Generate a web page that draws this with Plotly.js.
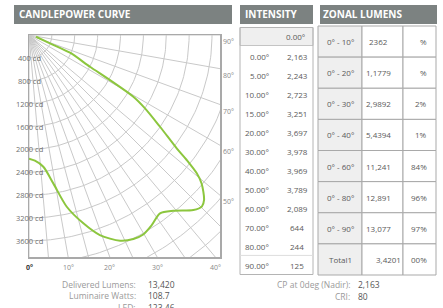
<!DOCTYPE html>
<html><head><meta charset="utf-8">
<script src="https://cdn.plot.ly/plotly-3.0.1.min.js"></script>
<style>html,body{margin:0;padding:0;background:#fff;overflow:hidden}#chart{width:443px;height:308px}</style>
</head><body><div id="chart"></div>
<script>
// ---------- DATA ----------
const curveAngleDeg = [0,2.7,6.2,9.3,12.4,16.1,19.5,23.9,27.1,29.8,32.9,36.3,39.4,43.2,45.2,46.7,49.3,50.5,51.6,52.5,55,57.7,59.4,60.9,62.5,66.6,68.4,76];
const curveCandela  = [2163,2201,2317,2629,3075,3428,3712,3934,4007,4019,3956,3870,3977,4198,4259,4206,3981,3802,3519,3256,2797,2400,2120,1621,1202,781,395,126];
const radialTicksCd = [400,800,1200,1600,2000,2400,2800,3200,3600];
const gridArcsCd = [400,800,1200,1600,2000,2400,2800,3200,3600,4000,4400,4800,5200];
const gridAnglesDeg = [0,5,10,15,20,25,30,35,40,45,50,60,70,80,90];
const bottomAngleTicks = [0,10,20,30,40];
const rightAngleTicks = [50,60,70,80,90];

const intensityHeader = '0.00°';
const intensityAngles = ['0.00°','5.00°','10.00°','15.00°','20.00°','30.00°','40.00°','50.00°','60.00°','70.00°','80.00°','90.00°'];
const intensityValues = ['2,163','2,243','2,723','3,251','3,697','3,978','3,969','3,789','2,089','644','244','125'];

const zonalRanges  = ['0° - 10°','0° - 20°','0° - 30°','0° - 40°','0° - 60°','0° - 80°','0° - 90°','Total1'];
const zonalLumens  = ['2362','1,1779','2,9892','5,4394','11,241','12,891','13,077','3,4201'];
const zonalPercent = ['%','%','2%','1%','84%','96%','97%','00%'];

const summaryLeftLabels  = ['Delivered Lumens:','Luminaire Watts:','LED:'];
const summaryLeftValues  = ['13,420','108.7','123.46'];
const summaryRightLabels = ['CP at 0deg (Nadir):','CRI:'];
const summaryRightValues = ['2,163','80'];

const titles = {curve:'CANDLEPOWER CURVE', intensity:'INTENSITY', zonal:'ZONAL LUMENS'};

// ---------- STYLE / GEOMETRY ----------
const W = 443, H = 308;
const FONT = 'Open Sans, Lato, sans-serif';
const HEADER_FILL = '#7c8281';
const GRID = '#c9c9c9';
const TXT = '#5a5a5a';
const plotL = 29, plotR = 220, plotT = 35, plotB = 257;
const pxPerCd = 22.875 / 400;
const xMax = (plotR - plotL) / pxPerCd;
const yMax = (plotB - plotT) / pxPerCd;
const rad = d => d * Math.PI / 180;
const px = x => x / W;
const py = y => 1 - y / H;

// ---------- TRACES ----------
const traces = [];
let ax = [], ay = [];
gridArcsCd.forEach(r => {
  for (let a = 0; a <= 90; a += 1) { ax.push(r * Math.sin(rad(a))); ay.push(-r * Math.cos(rad(a))); }
  ax.push(null); ay.push(null);
});
traces.push({x: ax, y: ay, mode: 'lines', line: {color: GRID, width: 1}, hoverinfo: 'skip', showlegend: false});
let lx = [], ly = [];
gridAnglesDeg.forEach(a => {
  const R = 8000;
  lx.push(0, R * Math.sin(rad(a)), null); ly.push(0, -R * Math.cos(rad(a)), null);
});
traces.push({x: lx, y: ly, mode: 'lines', line: {color: GRID, width: 1}, hoverinfo: 'skip', showlegend: false});
traces.push({
  x: curveAngleDeg.map((a, i) => curveCandela[i] * Math.sin(rad(a))),
  y: curveAngleDeg.map((a, i) => -curveCandela[i] * Math.cos(rad(a))),
  mode: 'lines', line: {color: '#8cc63e', width: 2, shape: 'spline', smoothing: 0.8},
  hoverinfo: 'skip', showlegend: false
});

// ---------- SHAPES & ANNOTATIONS ----------
const shapes = [], annotations = [];
function rect(x0, y0, x1, y1, fill, line, lw) {
  shapes.push({type: 'rect', xref: 'paper', yref: 'paper', x0: px(x0), x1: px(x1), y0: py(y1), y1: py(y0),
    fillcolor: fill || 'rgba(0,0,0,0)', line: {color: line || 'rgba(0,0,0,0)', width: lw || 0}, layer: 'below'});
}
function text(t, x, y, opts) {
  opts = opts || {};
  annotations.push({text: t, xref: 'paper', yref: 'paper', x: px(x), y: py(y), showarrow: false,
    xanchor: opts.xa || 'center', yanchor: 'middle',
    font: {family: opts.family || FONT, size: opts.size || 8, color: opts.color || TXT}});
}
rect(14, 5, 232, 24, HEADER_FILL);
rect(240, 5, 313, 24, HEADER_FILL);
rect(320, 5, 437, 24, HEADER_FILL);
const hdrFont = {xa: 'left', size: 10, color: '#ffffff', family: 'Open Sans, sans-serif'};
text('<b>' + titles.curve + '</b>', 17, 14.5, hdrFont);
text('<b>' + titles.intensity + '</b>', 243, 14.5, hdrFont);
text('<b>' + titles.zonal + '</b>', 321, 14.5, hdrFont);

// intensity table
const iTop = 27.5, iHead = 45.5, iBot = 274.5, iL = 240, iR = 313;
rect(iL, iTop, iR, iHead, '#efefef', '#c4c4c4', 1);
rect(iL, iTop, iR, iBot, null, '#b4b4b4', 1);
const rowH = (iBot - iHead) / intensityAngles.length;
shapes.push({type: 'line', xref: 'paper', yref: 'paper', x0: px(iL), x1: px(iR), y0: py(iHead + rowH * 11), y1: py(iHead + rowH * 11), line: {color: '#dddddd', width: 1}});
text(intensityHeader, 307, (iTop + iHead) / 2, {xa: 'right'});
intensityAngles.forEach((a, i) => {
  const cy = iHead + rowH * (i + 0.5) + 1;
  text(a, 271, cy, {xa: 'right'});
  text(intensityValues[i], 297, cy);
});

// zonal table
const zTop = 26, zBot = 275, zCols = [318, 362, 403, 436];
const zRowH = (zBot - zTop) / zonalRanges.length;
zonalRanges.forEach((r, i) => {
  const y0 = zTop + zRowH * i, y1 = y0 + zRowH, cy = (y0 + y1) / 2;
  rect(zCols[0], y0, zCols[1], y1, '#efefef', '#a9a9a9', 1);
  rect(zCols[1], y0, zCols[2], y1, '#ffffff', '#a9a9a9', 1);
  rect(zCols[2], y0, zCols[3], y1, '#ffffff', '#a9a9a9', 1);
  text(r, (zCols[0] + zCols[1]) / 2, cy);
  const last = i === zonalRanges.length - 1;
  text(zonalLumens[i], last ? 388 : 378, cy);
  text(zonalPercent[i], 429, cy, {xa: 'right'});
});

// summary text
summaryLeftLabels.forEach((l, i) => {
  const y = 284 + 11.5 * i;
  text(l, 138, y, {xa: 'right', size: 8.5, color: '#9a9a9a'});
  text(summaryLeftValues[i], 146, y, {xa: 'left', size: 8.5, color: '#555555'});
});
summaryRightLabels.forEach((l, i) => {
  const y = 284 + 12.5 * i;
  text(l, 352, y, {xa: 'right', size: 8.5, color: '#9a9a9a'});
  text(summaryRightValues[i], 356, y, {xa: 'left', size: 8.5, color: '#555555'});
});

// polar tick labels
radialTicksCd.forEach(r => {
  annotations.push({text: r + ' cd', xref: 'x', yref: 'y', x: 0, y: -r, showarrow: false, xanchor: 'center', yanchor: 'middle',
    font: {family: FONT, size: 7.5, color: '#6e6e6e'}});
});
bottomAngleTicks.forEach(a => {
  annotations.push({text: a === 0 ? '<b>0°</b>' : a + '°', xref: 'x', yref: 'paper', x: yMax * Math.tan(rad(a)), y: py(plotB + 4), showarrow: false,
    xanchor: 'center', yanchor: 'top', font: {family: FONT, size: 7, color: a === 0 ? '#333333' : '#8a8a8a'}});
});
rightAngleTicks.forEach(a => {
  annotations.push({text: a + '°', xref: 'paper', yref: 'y', x: px(plotR + 1), y: -xMax / Math.tan(rad(a)), showarrow: false,
    xanchor: 'left', yanchor: 'top', font: {family: FONT, size: 7, color: '#8a8a8a'}});
});

const layout = {
  width: W, height: H, margin: {l: 0, r: 0, t: 0, b: 0},
  paper_bgcolor: '#ffffff', plot_bgcolor: '#ffffff', showlegend: false,
  xaxis: {domain: [px(plotL), px(plotR)], range: [0, xMax], showgrid: false, zeroline: false, showticklabels: false, ticks: '',
    showline: true, mirror: true, linecolor: '#a9a9a9', linewidth: 1.5, fixedrange: true},
  yaxis: {domain: [py(plotB), py(plotT)], range: [-yMax, 0], showgrid: false, zeroline: false, showticklabels: false, ticks: '',
    showline: true, mirror: true, linecolor: '#a9a9a9', linewidth: 1.5, fixedrange: true},
  shapes: shapes, annotations: annotations
};
Plotly.newPlot('chart', traces, layout, {staticPlot: true, displayModeBar: false});
</script></body></html>
